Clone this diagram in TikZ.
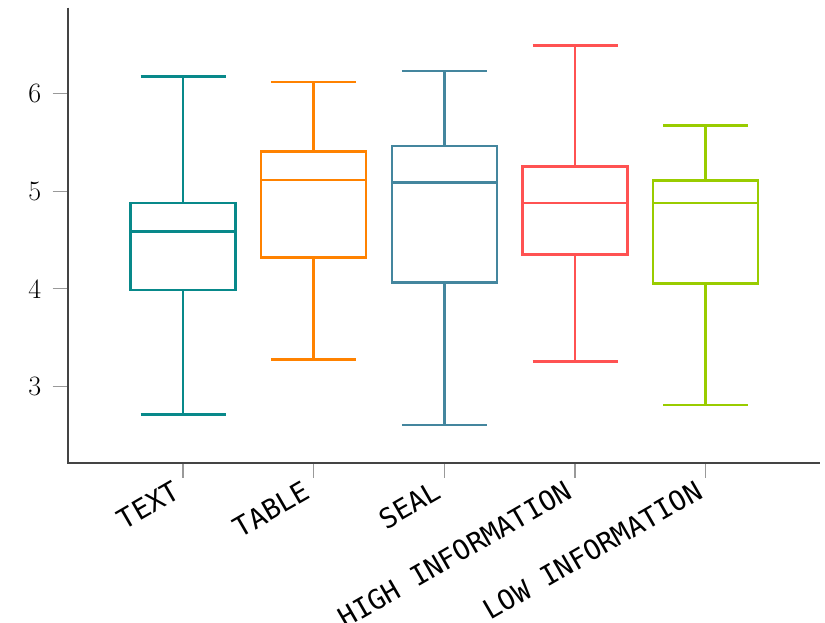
\documentclass[tikz,border=0pt]{standalone}
\usepackage{fontspec}
\newfontfamily\labelmono{DejaVu Sans Mono}
\definecolor{cText}{HTML}{08898A}
\definecolor{cTable}{HTML}{FF8200}
\definecolor{cSeal}{HTML}{44869E}
\definecolor{cHigh}{HTML}{FF5252}
\definecolor{cLow}{HTML}{99CC00}
\definecolor{axisgray}{HTML}{444444}
\definecolor{tickgray}{HTML}{999999}
\newcommand\myboxplot[7]{%
  % #1 cx, #2 top whisker, #3 q3, #4 median, #5 q1, #6 low whisker, #7 colour
  \draw[bpline,#7] (#1-52.5,#3) rectangle (#1+52.5,#5);
  \draw[bpline,#7] (#1-52.5,#4) -- (#1+52.5,#4);
  \draw[bpline,#7] (#1,#3) -- (#1,#2);
  \draw[bpline,#7] (#1,#5) -- (#1,#6);
  \draw[bpline,#7] (#1-42.5,#2) -- (#1+42.5,#2);
  \draw[bpline,#7] (#1-42.5,#6) -- (#1+42.5,#6);
}
\begin{document}
\begin{tikzpicture}[x=0.75pt,y=-0.75pt,
  bpline/.style={line width=1.9pt},
  axisline/.style={axisgray,line width=1.3pt},
  tickline/.style={tickgray,line width=0.8pt},
  ylab/.style={anchor=east,inner sep=0pt,font=\fontsize{21}{24}\selectfont},
  xlab/.style={anchor=base east,inner sep=0pt,rotate=30,font=\labelmono\fontsize{20.5}{24}\selectfont}]
\useasboundingbox (0,0) rectangle (825,622);
% y ticks
\foreach \v/\yy in {6/93.3,5/191.1,4/288.9,3/386.7}{
  \draw[tickline] (52.7,\yy) -- (68.3,\yy);
  \node[ylab] (y\v) at (41.5,\yy) {\v};
}
% x ticks and labels
\foreach \cx/\nm/\lab in {183/t1/TEXT,313.4/t2/TABLE,444.3/t3/SEAL,575/t4/HIGH INFORMATION,705.5/t5/LOW INFORMATION}{
  \draw[tickline] (\cx,462.7) -- (\cx,478);
  \node[xlab] (\nm) at (\cx-1,497) {\lab};
}
% boxes
\myboxplot{183}{76.7}{203}{231.7}{290}{414.3}{cText}
\myboxplot{313.4}{82}{151.7}{180}{257.3}{359.7}{cTable}
\myboxplot{444.3}{71}{146}{182.7}{282.3}{425}{cSeal}
\myboxplot{575}{45.7}{166.3}{203}{254.3}{361.3}{cHigh}
\myboxplot{705.5}{125.7}{180.3}{203}{283.3}{405}{cLow}
% axes
\draw[axisline] (68.3,7.5) -- (68.3,462.7) -- (820,462.7);
\end{tikzpicture}
\end{document}
